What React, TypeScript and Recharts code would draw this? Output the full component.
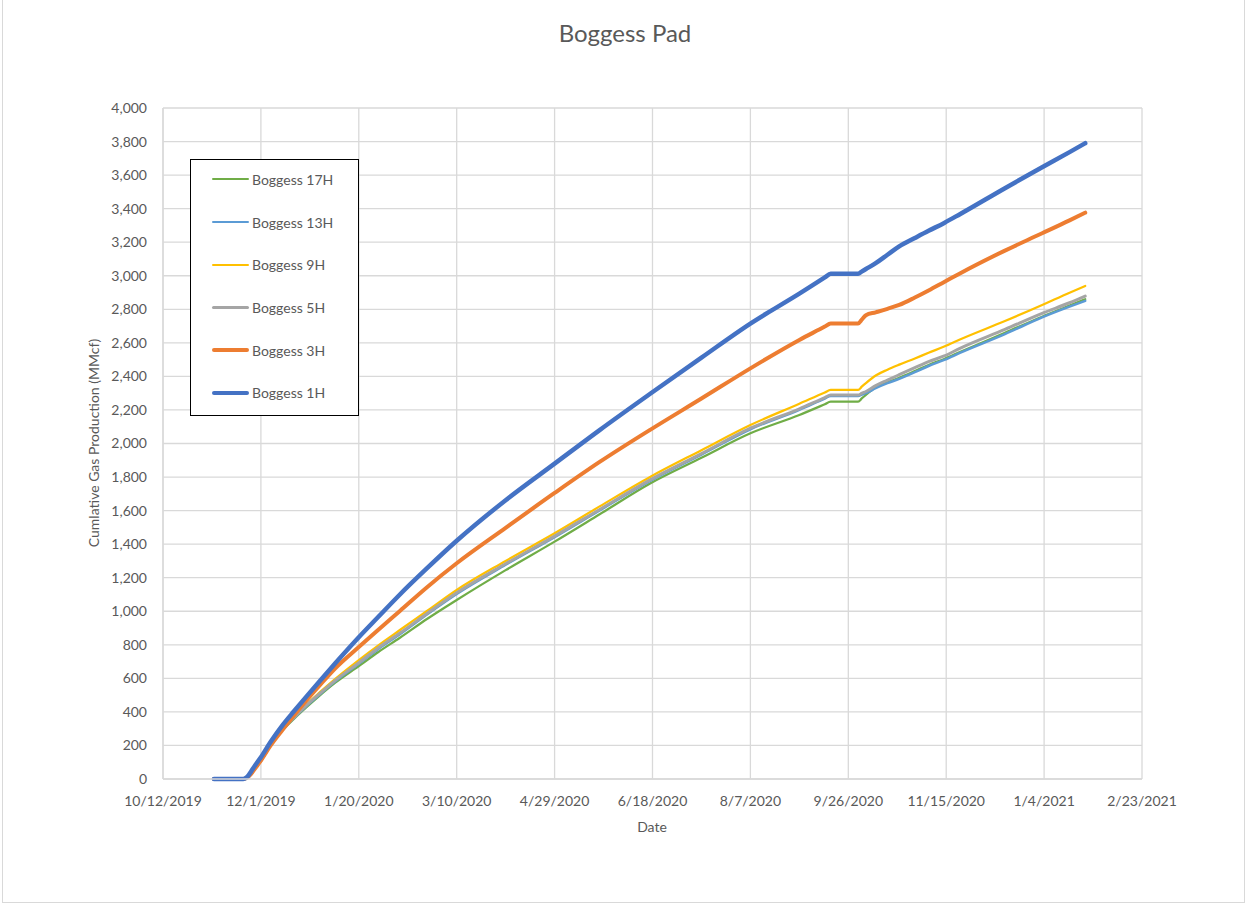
import React from 'react';
import { LineChart, Line, XAxis, YAxis, CartesianGrid, Legend } from 'recharts';

// Days since 10/12/2019 for each production reading
const dayOffsets = [26, 41, 43, 45, 47, 50, 55, 61, 67, 73, 80, 88, 100, 110, 121, 135, 150, 175, 200, 223, 249, 275, 300, 325, 338, 341, 355, 357, 359, 364, 370, 376, 384, 391, 399, 407, 430, 449, 463, 471];

// Cumulative gas production per well (MMcf)
const boggess17H = [0, 0, 9, 30, 62, 108, 200, 290, 360, 425, 497, 574, 673, 757, 842, 955, 1067, 1245, 1415, 1578, 1763, 1915, 2061, 2170, 2234, 2249, 2249, 2270, 2290, 2335, 2365, 2392, 2432, 2468, 2504, 2545, 2660, 2756, 2822, 2860];
const boggess13H = [0, 0, 10, 31, 63, 109, 202, 294, 365, 432, 504, 582, 687, 775, 863, 982, 1103, 1277, 1442, 1601, 1779, 1934, 2085, 2201, 2268, 2283, 2283, 2292, 2300, 2330, 2360, 2385, 2425, 2462, 2498, 2540, 2652, 2752, 2816, 2850];
const boggess9H = [0, 0, 10, 32, 64, 110, 205, 298, 372, 442, 516, 597, 709, 797, 888, 1003, 1127, 1300, 1465, 1625, 1802, 1960, 2110, 2237, 2304, 2319, 2319, 2340, 2360, 2405, 2440, 2470, 2507, 2541, 2578, 2620, 2730, 2826, 2899, 2939];
const boggess5H = [0, 0, 10, 32, 64, 110, 204, 296, 368, 437, 509, 588, 693, 782, 870, 988, 1110, 1283, 1448, 1607, 1785, 1940, 2091, 2207, 2274, 2289, 2289, 2300, 2310, 2345, 2378, 2410, 2452, 2488, 2522, 2567, 2680, 2776, 2839, 2879];
const boggess3H = [0, 0, 8, 30, 62, 110, 200, 292, 380, 465, 558, 660, 787, 890, 1002, 1145, 1286, 1497, 1705, 1890, 2083, 2268, 2448, 2617, 2697, 2716, 2716, 2740, 2765, 2782, 2803, 2826, 2870, 2912, 2963, 3014, 3150, 3253, 3330, 3376];
const boggess1H = [0, 0, 12, 45, 80, 130, 222, 320, 405, 488, 583, 690, 845, 967, 1100, 1258, 1420, 1662, 1880, 2080, 2298, 2512, 2715, 2893, 2990, 3012, 3012, 3026, 3040, 3075, 3125, 3175, 3225, 3268, 3315, 3367, 3522, 3647, 3737, 3790];

const xTicks = [0, 50, 100, 150, 200, 250, 300, 350, 400, 450, 500];
const yTicks = [0, 200, 400, 600, 800, 1000, 1200, 1400, 1600, 1800, 2000, 2200, 2400, 2600, 2800, 3000, 3200, 3400, 3600, 3800, 4000];

const START_UTC = Date.UTC(2019, 9, 12);
const formatDay = (d: number) => {
  const t = new Date(START_UTC + d * 86400000);
  return `${t.getUTCMonth() + 1}/${t.getUTCDate()}/${t.getUTCFullYear()}`;
};
const formatValue = (v: number) => v.toLocaleString('en-US');

const data = dayOffsets.map((day, i) => ({
  day,
  b17: boggess17H[i],
  b13: boggess13H[i],
  b9: boggess9H[i],
  b5: boggess5H[i],
  b3: boggess3H[i],
  b1: boggess1H[i],
}));

const FONT = 'Lato, "Open Sans", sans-serif';
const TEXT = '#595959';

const series = [
  { key: 'b17', name: 'Boggess 17H', color: '#70ad47', width: 2.25 },
  { key: 'b13', name: 'Boggess 13H', color: '#5b9bd5', width: 2.5 },
  { key: 'b9', name: 'Boggess 9H', color: '#ffc000', width: 2.25 },
  { key: 'b5', name: 'Boggess 5H', color: '#a5a5a5', width: 3 },
  { key: 'b3', name: 'Boggess 3H', color: '#ed7d31', width: 4 },
  { key: 'b1', name: 'Boggess 1H', color: '#4472c4', width: 4.5 },
];

const renderLegend = () => (
  <div
    style={{
      width: 169,
      height: 257,
      boxSizing: 'border-box',
      border: '1px solid #000',
      background: '#fff',
      fontFamily: FONT,
      fontSize: 14,
      color: TEXT,
    }}
  >
    <div style={{ marginTop: -2 }}>
      {series.map((s) => (
        <div key={s.key} style={{ height: 42.7, display: 'flex', alignItems: 'center', justifyContent: 'flex-start' }}>
          <div style={{ width: 37, marginLeft: 21, height: s.width, background: s.color, borderRadius: s.width / 2 }} />
          <span style={{ marginLeft: 3, whiteSpace: 'nowrap' }}>{s.name}</span>
        </div>
      ))}
    </div>
  </div>
);

const yTitle = () => (
  <text
    x={93}
    y={443}
    transform="rotate(-90 93 443)"
    textAnchor="middle"
    dominantBaseline="central"
    fill={TEXT}
    fontSize={14}
    fontFamily={FONT}
  >
    Cumlative Gas Production (MMcf)
  </text>
);

const xTitle = () => (
  <text x={652} y={826} textAnchor="middle" dominantBaseline="central" fill={TEXT} fontSize={14} fontFamily={FONT}>
    Date
  </text>
);

export default function App() {
  return (
    <div style={{ position: 'absolute', left: 0, top: 0, width: 1247, height: 905, background: '#fff' }}>
      <div
        style={{
          position: 'absolute',
          left: 2,
          top: 0,
          width: 1243,
          height: 903,
          boxSizing: 'border-box',
          border: '1px solid #d9d9d9',
          borderTop: 'none',
        }}
      />
      <div
        style={{
          position: 'absolute',
          left: 0,
          top: 19,
          width: 1250,
          textAlign: 'center',
          fontFamily: FONT,
          fontSize: 24,
          lineHeight: '28px',
          color: TEXT,
        }}
      >
        Boggess Pad
      </div>
      <div style={{ position: 'absolute', left: 0, top: 0 }}>
        <LineChart width={1247} height={905} data={data} margin={{ top: 108, right: 105, bottom: 26, left: 0 }}>
          <CartesianGrid stroke="#d9d9d9" strokeWidth={1.3} />
          <XAxis
            dataKey="day"
            type="number"
            domain={[0, 500]}
            ticks={xTicks}
            tickFormatter={formatDay}
            height={100}
            tickLine={false}
            axisLine={{ stroke: '#d9d9d9', strokeWidth: 1.3 }}
            tickMargin={11}
            tick={{ fill: TEXT, fontSize: 14, fontFamily: FONT }}
            interval={0}
            label={{ content: xTitle }}
          />
          <YAxis
            type="number"
            domain={[0, 4000]}
            ticks={yTicks}
            tickFormatter={formatValue}
            width={163}
            tickLine={false}
            axisLine={{ stroke: '#d9d9d9', strokeWidth: 1.3 }}
            tickMargin={10}
            tick={{ fill: TEXT, fontSize: 14, fontFamily: FONT }}
            interval={0}
            label={{ content: yTitle }}
          />
          <Legend
            layout="vertical"
            align="center"
            verticalAlign="middle"
            wrapperStyle={{ left: 190, top: 159, width: 169, height: 257 }}
            content={renderLegend}
          />
          {series.map((s) => (
            <Line
              key={s.key}
              type="monotone"
              dataKey={s.key}
              name={s.name}
              stroke={s.color}
              strokeWidth={s.width}
              strokeLinecap="round"
              strokeLinejoin="round"
              dot={false}
              activeDot={false}
              isAnimationActive={false}
            />
          ))}
        </LineChart>
      </div>
    </div>
  );
}
